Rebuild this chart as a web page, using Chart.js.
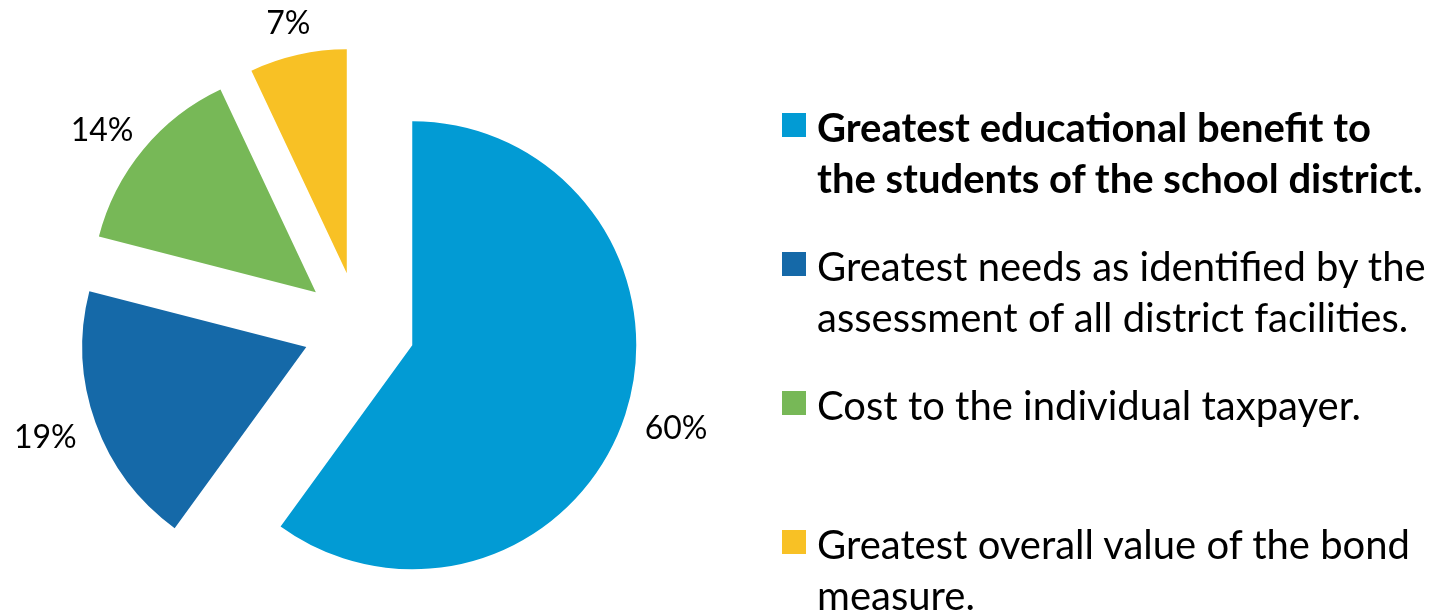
<!DOCTYPE html>
<html lang="en">
<head>
  <meta charset="UTF-8">
  <title>Bond measure priorities</title>
  <script src="https://cdn.jsdelivr.net/npm/chart.js"></script>
  <style>
    html, body {
      margin: 0;
      padding: 0;
      background: #fff;
    }
    .chart-wrap {
      position: relative;
      width: 1433px;
      height: 615px;
      overflow: hidden;
    }
    .chart-wrap canvas {
      position: absolute;
      left: 0;
      top: 0;
    }
    /* Legend on the right, one fixed-height slot per item */
    .legend {
      position: absolute;
      left: 782px;
      top: 102px;
      font-family: Lato, "Open Sans", sans-serif;
      font-size: 40px;
      line-height: 51px;
      color: #000;
    }
    .legend-item {
      display: flex;
      align-items: flex-start;
      height: 139px;
    }
    .legend-box {
      flex: none;
      width: 24px;
      height: 24px;
      margin-top: 11px;
      margin-right: 11px;
    }
    .legend-item.first {
      font-weight: bold;
    }
  </style>
</head>
<body>
  <div class="chart-wrap">
    <canvas id="pieChart"></canvas>
    <div class="legend" id="legend"></div>
  </div>

  <script>
    // Survey answers, one line per row of legend text
    const categories = [
      ['Greatest educational benefit to', 'the students of the school district.'],
      ['Greatest needs as identified by the', 'assessment of all district facilities.'],
      ['Cost to the individual taxpayer.'],
      ['Greatest overall value of the bond', 'measure.']
    ];
    const shares = [60, 19, 14, 7];
    const sliceColors = ['#029bd4', '#1569a8', '#77b857', '#f8c125'];

    // Pulls every slice out from the centre along its middle angle
    const explode = {
      id: 'explode',
      beforeDatasetDraw(chart, args, opts) {
        const c = chart.ctx;
        args.meta.data.forEach(arc => {
          const mid = (arc.startAngle + arc.endAngle) / 2;
          c.save();
          c.translate(Math.cos(mid) * opts.distance, Math.sin(mid) * opts.distance);
          arc.draw(c);
          c.restore();
        });
        return false;
      }
    };

    // Percentage text just outside the rim of each (moved) slice
    const outsideLabels = {
      id: 'outsideLabels',
      afterDatasetsDraw(chart, args, opts) {
        const c = chart.ctx;
        const meta = chart.getDatasetMeta(0);
        const values = chart.data.datasets[0].data;
        const shift = chart.options.plugins.explode.distance;
        c.save();
        c.font = opts.font;
        c.fillStyle = opts.color;
        c.textAlign = 'center';
        c.textBaseline = 'middle';
        meta.data.forEach((arc, i) => {
          const mid = (arc.startAngle + arc.endAngle) / 2;
          const ux = Math.cos(mid), uy = Math.sin(mid);
          const text = values[i] + '%';
          const w = c.measureText(text).width;
          const h = opts.height;
          const r = shift + arc.outerRadius + opts.gap;
          const x = arc.x + ux * r + ux * w / 2;
          const y = arc.y + uy * r + uy * h / 2 + opts.nudgeY;
          c.fillText(text, x, y);
        });
        c.restore();
      }
    };

    const ctx = document.getElementById('pieChart').getContext('2d');
    new Chart(ctx, {
      type: 'pie',
      data: {
        labels: categories,
        datasets: [{
          data: shares,
          backgroundColor: sliceColors,
          borderWidth: 0
        }]
      },
      options: {
        responsive: true,
        maintainAspectRatio: false,
        animation: false,
        radius: 224,
        layout: {
          padding: { left: 0, right: 715, top: 41, bottom: 0 }
        },
        plugins: {
          legend: { display: false },
          tooltip: { enabled: false },
          explode: { distance: 56 },
          outsideLabels: {
            font: '32px Lato, "Open Sans", sans-serif',
            color: '#000',
            gap: 22,
            height: 26,
            nudgeY: 3
          }
        }
      },
      plugins: [explode, outsideLabels]
    });

    // Legend built from the same arrays
    const legend = document.getElementById('legend');
    categories.forEach((lines, i) => {
      const item = document.createElement('div');
      item.className = 'legend-item' + (i === 0 ? ' first' : '');
      const box = document.createElement('span');
      box.className = 'legend-box';
      box.style.background = sliceColors[i];
      const text = document.createElement('div');
      text.innerHTML = lines.join('<br>');
      item.appendChild(box);
      item.appendChild(text);
      legend.appendChild(item);
    });
  </script>
</body>
</html>
